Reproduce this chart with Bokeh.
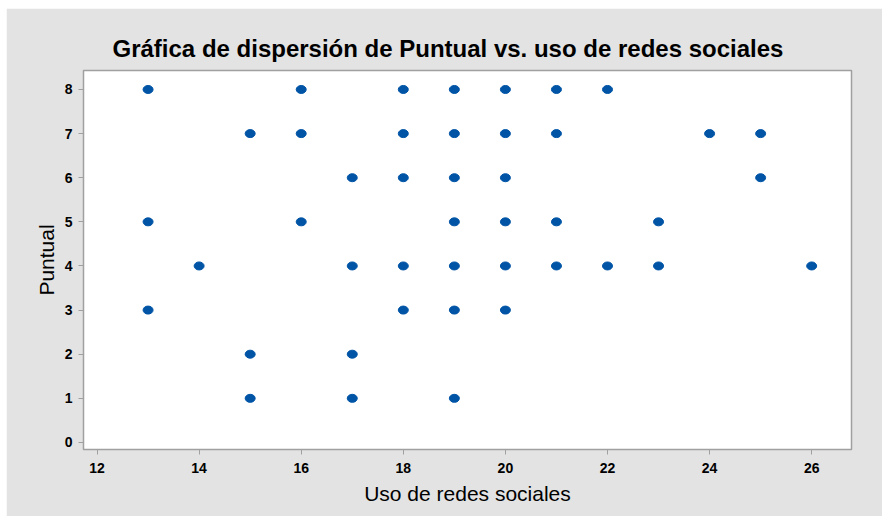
from bokeh.plotting import figure
from bokeh.embed import file_html
from bokeh.resources import INLINE
from bokeh.models import FixedTicker, ColumnDataSource, Range1d

uso = [13, 16, 18, 19, 20, 21, 22,
       15, 16, 18, 19, 20, 21, 24, 25,
       17, 18, 19, 20, 25,
       13, 16, 19, 20, 21, 23,
       14, 17, 18, 19, 20, 21, 22, 23, 26,
       13, 18, 19, 20,
       15, 17,
       15, 17, 19]
puntual = [8, 8, 8, 8, 8, 8, 8,
           7, 7, 7, 7, 7, 7, 7, 7,
           6, 6, 6, 6, 6,
           5, 5, 5, 5, 5, 5,
           4, 4, 4, 4, 4, 4, 4, 4, 4,
           3, 3, 3, 3,
           2, 2,
           1, 1, 1]
x_ticks = [12, 14, 16, 18, 20, 22, 24, 26]
y_ticks = [0, 1, 2, 3, 4, 5, 6, 7, 8]

src = ColumnDataSource(dict(x=uso, y=puntual))

p = figure(width=876, height=508, output_backend="svg", toolbar_location=None,
           x_range=Range1d(11.735, 26.78), y_range=Range1d(-0.16, 8.43),
           title="Gráfica de dispersión de Puntual vs. uso de redes sociales",
           min_border_left=77, min_border_right=31, min_border_top=62, min_border_bottom=67)
p.margin = (8, 0, 0, 6)

p.ellipse(x="x", y="y", width=10, height=8, width_units="screen", height_units="screen",
          source=src, fill_color="#0054a6", line_color="#0054a6")

p.border_fill_color = "#e3e3e3"
p.background_fill_color = "white"
p.outline_line_color = "#a0a0a0"
p.outline_line_width = 1.5
p.grid.visible = False

p.title.text_font = "Liberation Sans"
p.title.text_font_size = "24px"
p.title.text_font_style = "bold"
p.title.align = "left"
p.title.text_color = "black"
p.title.offset = 29
p.title.standoff = 18

for ax in (p.xaxis[0], p.yaxis[0]):
    ax.axis_line_color = None
    ax.major_tick_line_color = "#a0a0a0"
    ax.major_tick_out = 5
    ax.major_tick_in = 0
    ax.minor_tick_line_color = None
    ax.major_label_text_font = "Liberation Sans"
    ax.major_label_text_font_style = "bold"
    ax.major_label_text_font_size = "14px"
    ax.major_label_text_color = "black"
    ax.axis_label_text_font = "Liberation Sans"
    ax.axis_label_text_font_style = "normal"
    ax.axis_label_text_font_size = "21px"
    ax.axis_label_text_color = "black"

p.xaxis.ticker = FixedTicker(ticks=x_ticks)
p.yaxis.ticker = FixedTicker(ticks=y_ticks)
p.xaxis.axis_label = "Uso de redes sociales"
p.yaxis.axis_label = "Puntual"
p.xaxis.major_label_standoff = 8
p.yaxis.major_label_standoff = 6
p.xaxis.axis_label_standoff = 6
p.yaxis.axis_label_standoff = 4

open("out.html", "w").write(file_html(p, INLINE))
